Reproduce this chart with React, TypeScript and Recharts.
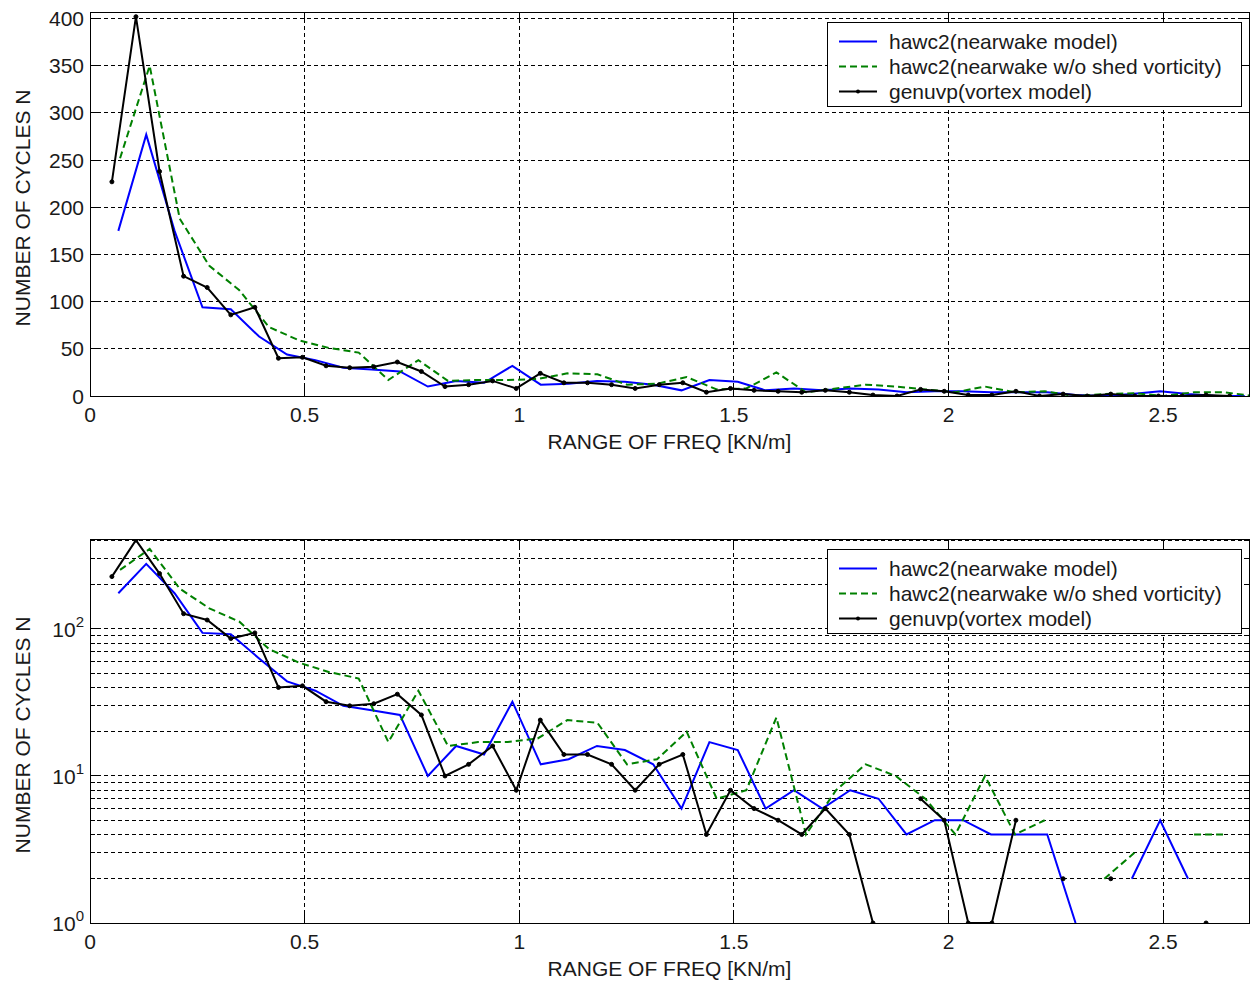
import { CartesianGrid, Legend, Line, LineChart, ReferenceArea, XAxis, YAxis } from "recharts";

const FONT = '"Liberation Sans", Arial, Helvetica, sans-serif';
const TEXT = "#1a1a1a";

// x bins differ per model
const blueX = [
  0.066, 0.131, 0.197, 0.262, 0.328, 0.394, 0.459, 0.525, 0.59, 0.656, 0.722, 0.787, 0.853, 0.918,
  0.984, 1.05, 1.115, 1.181, 1.246, 1.312, 1.378, 1.443, 1.509, 1.574, 1.64, 1.706, 1.771, 1.837,
  1.902, 1.968, 2.034, 2.099, 2.165, 2.23, 2.296, 2.362, 2.427, 2.493, 2.558, 2.624, 2.69,
];
const blueN = [
  175, 277, 175, 94, 92, 63, 44, 38, 30, 28, 26, 10, 16, 14, 32, 12, 13, 16, 15, 12, 6, 17, 15, 6,
  8, 6, 8, 7, 4, 5, 5, 4, 4, 4, 1, 0, 2, 5, 2, 0, 0,
];

const greenX = [
  0.07, 0.139, 0.209, 0.278, 0.348, 0.417, 0.487, 0.556, 0.626, 0.695, 0.765, 0.834, 0.904, 0.973,
  1.043, 1.112, 1.182, 1.251, 1.321, 1.39, 1.46, 1.529, 1.599, 1.668, 1.738, 1.807, 1.877, 1.946,
  2.016, 2.085, 2.155, 2.224, 2.294, 2.363, 2.433, 2.502, 2.572, 2.641, 2.711,
];
const greenN = [
  252, 350, 188, 138, 112, 73, 59, 51, 46, 17, 38, 16, 17, 17, 18, 24, 23, 12, 13, 20, 7, 8, 25, 4,
  8, 12, 10, 7, 4, 10, 4, 5, 0, 2, 3, 0, 4, 4, 0,
];

const blackX = [
  0.051, 0.107, 0.162, 0.218, 0.273, 0.328, 0.384, 0.439, 0.495, 0.55, 0.605, 0.661, 0.716, 0.772,
  0.827, 0.882, 0.938, 0.993, 1.049, 1.104, 1.159, 1.215, 1.27, 1.326, 1.381, 1.436, 1.492, 1.547,
  1.603, 1.658, 1.713, 1.769, 1.824, 1.88, 1.935, 1.99, 2.046, 2.101, 2.157, 2.212, 2.267, 2.323,
  2.378, 2.434, 2.489, 2.544, 2.6, 2.655,
];
const blackN = [
  227, 402, 238, 127, 115, 86, 94, 40, 41, 32, 30, 31, 36, 26, 10, 12, 16, 8, 24, 14, 14, 12, 8, 12,
  14, 4, 8, 6, 5, 4, 6, 4, 1, 0, 7, 5, 1, 1, 5, 0, 2, 0, 2, 0, 0, 0, 1, 0,
];

const xTicks = [0, 0.5, 1, 1.5, 2, 2.5];
const linTicks = [0, 50, 100, 150, 200, 250, 300, 350, 400];
const logTicks = [1, 2, 3, 4, 5, 6, 7, 8, 9, 10, 20, 30, 40, 50, 60, 70, 80, 90, 100, 200, 300, 400];
const decades: Record<number, string> = { 1: "0", 10: "1", 100: "2" };

const SERIES = [
  { key: "blue", name: "hawc2(nearwake model)", color: "#0000ff", dash: undefined, dots: false, xs: blueX, ns: blueN },
  { key: "green", name: "hawc2(nearwake w/o shed vorticity)", color: "#008000", dash: "7 4", dots: false, xs: greenX, ns: greenN },
  { key: "black", name: "genuvp(vortex model)", color: "#000000", dash: undefined, dots: true, xs: blackX, ns: blackN },
];

const PLOT_L = 90;
const PLOT_R = 1249;

function makeXTick(top: number, bottom: number) {
  return ({ x, payload }: any) => (
    <g>
      <line x1={x} x2={x} y1={bottom} y2={bottom - 10} stroke="#000" shapeRendering="crispEdges" />
      <line x1={x} x2={x} y1={top} y2={top + 10} stroke="#000" shapeRendering="crispEdges" />
      <text x={x} y={bottom + 26} textAnchor="middle" fontSize={21} fill={TEXT} fontFamily={FONT}>
        {payload.value}
      </text>
    </g>
  );
}

function LinYTick({ y, payload }: any) {
  return (
    <g>
      <line x1={PLOT_L} x2={PLOT_L + 10} y1={y} y2={y} stroke="#000" shapeRendering="crispEdges" />
      <line x1={PLOT_R} x2={PLOT_R - 10} y1={y} y2={y} stroke="#000" shapeRendering="crispEdges" />
      <text x={84} y={y + 7.5} textAnchor="end" fontSize={21} fill={TEXT} fontFamily={FONT}>
        {payload.value}
      </text>
    </g>
  );
}

function LogYTick({ y, payload }: any) {
  const exp = decades[payload.value];
  const len = exp ? 10 : 5;
  return (
    <g>
      <line x1={PLOT_L} x2={PLOT_L + len} y1={y} y2={y} stroke="#000" shapeRendering="crispEdges" />
      <line x1={PLOT_R} x2={PLOT_R - len} y1={y} y2={y} stroke="#000" shapeRendering="crispEdges" />
      {exp ? (
        <text x={84} y={y + 8} textAnchor="end" fontSize={21} fill={TEXT} fontFamily={FONT}>
          <tspan>10</tspan>
          <tspan dy={-10} fontSize={15}>
            {exp}
          </tspan>
        </text>
      ) : null}
    </g>
  );
}

function AxisTitle({ tx, ty, text, vertical }: any) {
  return (
    <text
      x={tx}
      y={ty}
      textAnchor="middle"
      fontSize={21}
      fill={TEXT}
      fontFamily={FONT}
      transform={vertical ? `rotate(-90, ${tx}, ${ty})` : undefined}
    >
      {text}
    </text>
  );
}

function LegendBox() {
  return (
    <div
      style={{
        width: 415,
        height: 85,
        boxSizing: "border-box",
        border: "1px solid #000",
        background: "#fff",
        paddingTop: 6,
        fontFamily: FONT,
        fontSize: 21,
        color: TEXT,
      }}
    >
      {SERIES.map((s) => (
        <div key={s.key} style={{ height: 25, display: "flex", alignItems: "center" }}>
          <svg width={61} height={25} style={{ flex: "none" }}>
            <line x1={11} x2={49} y1={12.5} y2={12.5} stroke={s.color} strokeWidth={2} strokeDasharray={s.dash} />
            {s.dots ? <circle cx={30} cy={12.5} r={2} fill={s.color} /> : null}
          </svg>
          <span style={{ whiteSpace: "nowrap" }}>{s.name}</span>
        </div>
      ))}
    </div>
  );
}

function Panel({ log, height, top, bottom }: { log: boolean; height: number; top: number; bottom: number }) {
  const yMax = log ? 409 : 407;
  return (
    <LineChart width={1252} height={height} margin={{ top, right: 1252 - PLOT_R, bottom: 0, left: 0 }}>
      <CartesianGrid stroke="#000" strokeDasharray="4 3" strokeWidth={1} shapeRendering="crispEdges" />
      <XAxis
        type="number"
        dataKey="x"
        domain={[0, 2.7]}
        ticks={xTicks}
        interval={0}
        allowDataOverflow
        height={height - bottom}
        axisLine={false}
        tickLine={false}
        tick={makeXTick(top, bottom)}
        label={<AxisTitle tx={(PLOT_L + PLOT_R) / 2} ty={bottom + 53} text="RANGE OF FREQ [KN/m]" />}
      />
      <YAxis
        type="number"
        scale={log ? "log" : "linear"}
        domain={log ? [1, yMax] : [0, yMax]}
        ticks={log ? logTicks : linTicks}
        interval={0}
        allowDataOverflow
        width={PLOT_L}
        axisLine={false}
        tickLine={false}
        tick={log ? LogYTick : LinYTick}
        label={<AxisTitle tx={30} ty={(top + bottom) / 2 + 4} text="NUMBER OF CYCLES N" vertical />}
      />
      <ReferenceArea
        x1={0}
        x2={2.7}
        y1={log ? 1 : 0}
        y2={yMax}
        fill="none"
        stroke="#000"
        strokeWidth={1}
        shapeRendering="crispEdges"
        ifOverflow="visible"
      />
      {SERIES.map((s) => (
        <Line
          key={s.key}
          name={s.name}
          data={s.xs.map((x, i) => ({ x, n: log && s.ns[i] <= 0 ? null : s.ns[i] }))}
          dataKey="n"
          type="linear"
          stroke={s.color}
          strokeWidth={2}
          strokeDasharray={s.dash}
          dot={s.dots ? { r: 2, fill: s.color, stroke: s.color, strokeWidth: 1 } : false}
          activeDot={false}
          isAnimationActive={false}
        />
      ))}
      <Legend
        layout="vertical"
        align="center"
        verticalAlign="middle"
        wrapperStyle={{ left: 827, top: top + 10, width: 415, height: 85 }}
        content={() => <LegendBox />}
      />
    </LineChart>
  );
}

export default function App() {
  return (
    <div style={{ position: "fixed", left: 0, top: 0, width: 1252, height: 983, background: "#fff" }}>
      <div style={{ position: "absolute", left: 0, top: 0 }}>
        <Panel log={false} height={460} top={12} bottom={396} />
      </div>
      <div style={{ position: "absolute", left: 0, top: 480 }}>
        <Panel log height={503} top={59} bottom={443} />
      </div>
    </div>
  );
}
